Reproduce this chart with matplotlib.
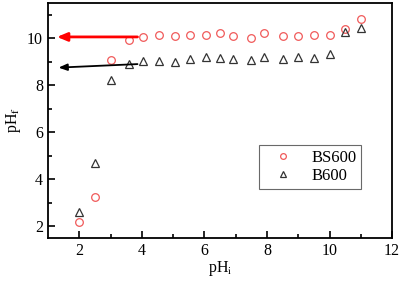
import matplotlib.pyplot as plt

plt.rcParams['font.family'] = ['Liberation Serif', 'DejaVu Serif']
plt.rcParams['mathtext.fontset'] = 'stix'

# BS600 (red circles)
ph_i_bs = [2.0, 2.5, 3.0, 3.6, 4.05, 4.55, 5.05, 5.55, 6.05, 6.5, 6.9, 7.5, 7.9, 8.5, 9.0, 9.5, 10.0, 10.5, 11.0]
ph_f_bs = [2.18, 3.24, 9.05, 9.9, 10.05, 10.12, 10.1, 10.15, 10.15, 10.2, 10.08, 10.02, 10.2, 10.1, 10.1, 10.12, 10.15, 10.4, 10.8]

# B600 (black triangles)
ph_i_b = [2.0, 2.5, 3.0, 3.6, 4.05, 4.55, 5.05, 5.55, 6.05, 6.5, 6.9, 7.5, 7.9, 8.5, 9.0, 9.5, 10.0, 10.5, 11.0]
ph_f_b = [2.59, 4.69, 8.23, 8.89, 9.02, 9.02, 9.0, 9.1, 9.19, 9.16, 9.12, 9.09, 9.19, 9.13, 9.19, 9.16, 9.34, 10.25, 10.45]

fig = plt.figure(figsize=(4.03, 2.82), dpi=100)
ax = fig.add_axes([0.119, 0.156, 0.854, 0.834])

ax.plot(ph_i_bs, ph_f_bs, 'o', mfc='none', mec='#f05a5a', ms=5.5, mew=0.9, label='BS600')
ax.plot(ph_i_b, ph_f_b, '^', mfc='none', mec='#333333', ms=6, mew=0.9, label='B600')

ax.annotate('', xy=(1.2, 10.05), xytext=(3.95, 10.05),
            arrowprops=dict(arrowstyle='-|>,head_length=0.6,head_width=0.25', color='red', lw=2))
ax.annotate('', xy=(1.25, 8.74), xytext=(3.95, 8.9),
            arrowprops=dict(arrowstyle='-|>,head_length=0.5,head_width=0.2', color='black', lw=1.3))

ax.set_xlim(1, 12)
ax.set_ylim(1.5, 11.5)
ax.set_xticks([2, 4, 6, 8, 10, 12])
ax.set_xticks([3, 5, 7, 9, 11], minor=True)
ax.set_yticks([2, 4, 6, 8, 10])
ax.set_yticks([3, 5, 7, 9, 11], minor=True)
ax.tick_params(which='both', direction='in', labelsize=11.5, width=1.2)
ax.tick_params(which='major', length=5)
ax.tick_params(which='minor', length=3)
for s in ax.spines.values():
    s.set_linewidth(1.3)

ax.set_xlabel('pH$_\\mathrm{i}$', fontsize=11.5, labelpad=0)
ax.set_ylabel('pH$_\\mathrm{f}$', fontsize=11.5, labelpad=3)

leg = ax.legend(loc='lower right', bbox_to_anchor=(0.91, 0.208), fontsize=12,
                fancybox=False, edgecolor='#444444', handletextpad=0.6,
                borderpad=0.3, labelspacing=0.15, markerscale=0.75, handlelength=2.2,
                borderaxespad=0)
leg.get_frame().set_linewidth(0.8)

fig.savefig('out.png', dpi=100)
